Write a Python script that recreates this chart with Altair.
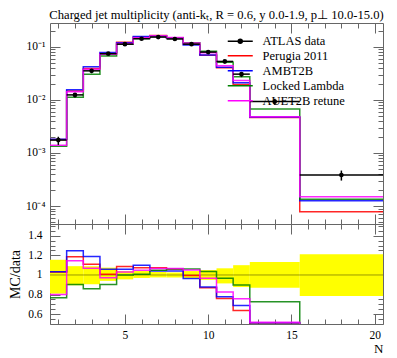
import altair as alt
import numpy as np
import pandas as pd

# ---------------- data ----------------
bin_lo = [0.5, 1.5, 2.5, 3.5, 4.5, 5.5, 6.5, 7.5, 8.5, 9.5, 10.5, 11.5, 12.5, 15.5]
bin_hi = [1.5, 2.5, 3.5, 4.5, 5.5, 6.5, 7.5, 8.5, 9.5, 10.5, 11.5, 12.5, 15.5, 20.5]
data_val = [1.75e-3, 0.0124, 0.0352, 0.074, 0.112, 0.1415, 0.152, 0.14, 0.112,
            0.0794, 0.0529, 0.0305, 0.0093, 3.85e-4]
# relative data uncertainty (upper / lower edge of the yellow band)
err_up = [1.155, 1.09, 1.09, 1.075, 1.04, 1.04, 1.03, 1.025, 1.04, 1.05, 1.068, 1.10, 1.133, 1.212]
err_dn = [0.81, 0.895, 0.905, 0.94, 0.955, 0.97, 0.975, 0.975, 0.965, 0.95, 0.914, 0.877, 0.87, 0.785]

# MC / data ratios per bin
ratio_perugia = [1.03, 1.185, 1.109, 1.007, 1.086, 1.075, 1.075, 1.06, 0.995, 0.87, 0.76, 0.637, 0.50, 0.203]
ratio_ambt2b = [1.034, 1.246, 1.188, 1.058, 1.058, 1.099, 1.041, 1.04, 0.965, 0.877, 0.778, 0.688, 0.512, 0.327]
ratio_locked = [0.767, 0.904, 0.86, 0.904, 1.0, 1.007, 1.048, 1.06, 1.06, 1.035, 0.966, 0.897, 0.726, 0.348]
ratio_auet2b = [0.80, 1.144, 1.068, 0.973, 1.03, 1.048, 1.065, 1.065, 1.05, 0.966, 0.826, 0.757, 0.518, 0.39]

data_name = "ATLAS data"
mc_names = ["Perugia 2011", "AMBT2B", "Locked Lambda", "AUET2B retune"]
mc_colors = ["red", "blue", "green", "magenta"]

x_major = [5, 10, 15, 20]
x_minor = list(range(1, 21))
decades = [1e-4, 1e-3, 1e-2, 1e-1]
log_minor = [k * 10.0 ** e for e in range(-5, 0) for k in range(2, 10) if 4.6e-5 <= k * 10.0 ** e <= 0.28]
r_major = [0.6, 0.8, 1.0, 1.2, 1.4]
r_minor = [round(0.5 + 0.05 * i, 2) for i in range(21)]

# ---------------- tables ----------------
mc_rows = []
for name, rat in zip(mc_names, [ratio_perugia, ratio_ambt2b, ratio_locked, ratio_auet2b]):
    for i, (lo, hi, d, r) in enumerate(zip(bin_lo, bin_hi, data_val, rat)):
        for j, xv in enumerate((lo, hi)):
            mc_rows.append(dict(series=name, x=xv, top=d * r, ratio=r, ord=2 * i + j))
mc_df = pd.DataFrame(mc_rows)

data_df = pd.DataFrame(dict(
    lo=bin_lo, hi=bin_hi, val=data_val, rel_up=err_up, rel_dn=err_dn,
    xc=[(a + b) / 2 for a, b in zip(bin_lo, bin_hi)],
    ylo=[v * d for v, d in zip(data_val, err_dn)],
    yhi=[v * u for v, u in zip(data_val, err_up)],
))
data_df["unity"] = data_df["val"] / data_df["val"]
data_df["label"] = data_name

# ---------------- styling ----------------
FONT = "Liberation Serif"
TICK = "#666666"
W, H_TOP, H_RAT = 333, 201, 100

xs = alt.Scale(domain=[0.5, 20.5], nice=False, zero=False)
ys_log = alt.Scale(type="log", domain=[4.6e-5, 0.28], nice=False)
yr = alt.Scale(domain=[0.5, 1.52], nice=False, zero=False)
color_scale = alt.Scale(domain=mc_names, range=mc_colors)

LINE_SYM = "M-2.5,0H2.5"
DATA_SYM = (LINE_SYM +
            "M0.15,0A0.15,0.15,0,1,1,-0.15,0A0.15,0.15,0,1,1,0.15,0"
            "M0.4,0A0.4,0.4,0,1,1,-0.4,0A0.4,0.4,0,1,1,0.4,0")


def tick_axis(orient, offset, values, size):
    return alt.Axis(orient=orient, offset=offset, values=values, tickSize=size,
                    labels=False, domain=False, grid=False, title=None,
                    ticks=True, tickColor=TICK, tickWidth=1)


def make_legend(y, symbol):
    return alt.Legend(
        title=None, orient="none", legendX=184, legendY=y, padding=0,
        symbolType=symbol, symbolSize=100, symbolStrokeWidth=1.5, symbolOpacity=1,
        labelFont=FONT, labelFontSize=12.5, labelColor="black", labelOffset=16,
        rowPadding=2,
    )


log_label = ("datum.value < 5e-4 ? '10\u207b\u2074' : datum.value < 5e-3 ? '10\u207b\u00b3' : "
             "datum.value < 5e-2 ? '10\u207b\u00b2' : '10\u207b\u00b9'")

# ---------------- top panel ----------------
t1 = alt.Chart(mc_df).mark_line(strokeWidth=1.5, opacity=0.85).encode(
    x=alt.X("x:Q", scale=xs, axis=tick_axis("top", -H_TOP, x_major, 10)),
    y=alt.Y("top:Q", scale=ys_log, axis=alt.Axis(
        orient="left", values=decades, labelExpr=log_label, ticks=False, tickSize=0,
        domain=False, grid=False, title=None, labelPadding=5, labelFontSize=11.5)),
    color=alt.Color("series:N", scale=color_scale, sort=None, legend=make_legend(26.5, LINE_SYM)),
    order=alt.Order("ord:Q"),
)
t2 = alt.Chart(data_df).mark_rule(color="black", strokeWidth=1.5).encode(
    x=alt.X("lo:Q", scale=xs, axis=tick_axis("top", -H_TOP, x_minor, 5)),
    x2="hi:Q",
    y=alt.Y("val:Q", scale=ys_log, axis=tick_axis("right", -W, decades, 10)),
)
t3 = alt.Chart(data_df).mark_rule(color="black", strokeWidth=1.5).encode(
    x=alt.X("xc:Q", scale=xs, axis=tick_axis("bottom", -H_TOP, x_major, 10)),
    y=alt.Y("ylo:Q", scale=ys_log, axis=tick_axis("right", -W, log_minor, 5)),
    y2="yhi:Q",
)
t4 = alt.Chart(data_df).mark_point(filled=True, color="black", size=22, opacity=1).encode(
    x=alt.X("xc:Q", scale=xs, axis=tick_axis("bottom", -H_TOP, x_minor, 5)),
    y=alt.Y("val:Q", scale=ys_log, axis=tick_axis("left", -W, decades, 10)),
)
# invisible layer: legend entry for the data (line + dot) and right-edge minor ticks
t5 = alt.Chart(data_df).mark_point(opacity=0, filled=False, color="black").encode(
    x=alt.X("xc:Q", scale=xs, axis=None),
    y=alt.Y("val:Q", scale=ys_log, axis=tick_axis("left", -W, log_minor, 5)),
    shape=alt.Shape("label:N", scale=alt.Scale(domain=[data_name], range=[DATA_SYM]),
                    legend=make_legend(12, DATA_SYM)),
)
top = (
    alt.layer(t1, t2, t3, t4, t5)
    .resolve_axis(x="independent", y="independent")
    .properties(
        width=W, height=H_TOP,
        title=alt.TitleParams(
            "Charged jet multiplicity (anti-k\u209c, R = 0.6, y 0.0-1.9, p\u22a5 10.0-15.0)",
            font=FONT, fontSize=12.6, fontWeight="normal", color="black",
            anchor="middle", frame="group", offset=1),
    )
)

# ---------------- ratio panel ----------------
r1 = alt.Chart(data_df).mark_rect(color="#ffff00", opacity=1, clip=True).encode(
    x=alt.X("lo:Q", scale=xs, axis=alt.Axis(
        orient="bottom", values=x_major, ticks=False, tickSize=0, domain=False, grid=False,
        title="N", titleAnchor="end", titleY=24, titleBaseline="middle",
        labelPadding=5, labelFontSize=11.5, titleFontSize=13)),
    x2="hi:Q",
    y=alt.Y("rel_up:Q", scale=yr, axis=alt.Axis(
        orient="left", values=r_major, format="~g", ticks=False, tickSize=0, domain=False,
        grid=False, title="MC/data", labelPadding=8, titlePadding=5,
        labelFontSize=11.5, titleFontSize=14)),
    y2="rel_dn:Q",
)
r2 = alt.Chart(data_df).mark_rule(color="#9a9a00", strokeWidth=1).encode(
    x=alt.X("lo:Q", scale=xs, axis=tick_axis("top", -H_RAT, x_major, 10)),
    x2="hi:Q",
    y=alt.Y("unity:Q", scale=yr, axis=tick_axis("right", -W, r_major, 10)),
)
r3 = alt.Chart(mc_df).mark_line(strokeWidth=1.5, opacity=0.85, clip=True).encode(
    x=alt.X("x:Q", scale=xs, axis=tick_axis("top", -H_RAT, x_minor, 5)),
    y=alt.Y("ratio:Q", scale=yr, axis=tick_axis("right", -W, r_minor, 5)),
    color=alt.Color("series:N", scale=color_scale, sort=None, legend=None),
    order=alt.Order("ord:Q"),
)
r4 = alt.Chart(data_df).mark_point(opacity=0).encode(
    x=alt.X("xc:Q", scale=xs, axis=tick_axis("bottom", -H_RAT, x_major, 10)),
    y=alt.Y("unity:Q", scale=yr, axis=tick_axis("left", -W, r_major, 10)),
)
r5 = alt.Chart(data_df).mark_point(opacity=0).encode(
    x=alt.X("xc:Q", scale=xs, axis=tick_axis("bottom", -H_RAT, x_minor, 5)),
    y=alt.Y("unity:Q", scale=yr, axis=tick_axis("left", -W, r_minor, 5)),
)
ratio = alt.layer(r1, r2, r3, r4, r5).resolve_axis(x="independent", y="independent").properties(
    width=W, height=H_RAT)

chart = (
    alt.vconcat(top, ratio, spacing=0, bounds="flush")
    .resolve_scale(color="independent", shape="independent")
    .resolve_legend(color="independent", shape="independent")
    .properties(padding={"left": 0, "top": 0, "right": 0, "bottom": 0})
    .configure_view(stroke=TICK, strokeWidth=1)
    .configure_axis(labelFont=FONT, titleFont=FONT, labelColor="black",
                    titleColor="black", titleFontWeight="normal")
)

chart.save("out.html", embed_options={"renderer": "svg", "actions": False})
